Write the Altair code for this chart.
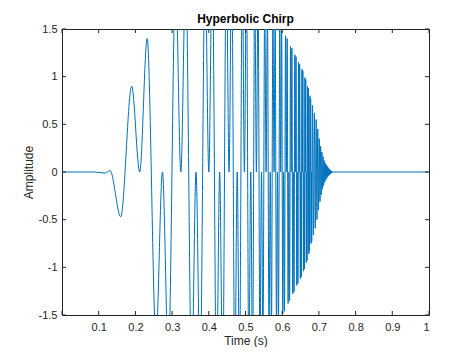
import altair as alt
import pandas as pd

# Extrema of the hyperbolic chirp (time in s, amplitude)
t_vals = [
    0.0, 0.090, 0.117, 0.131, 0.160,
    0.1899, 0.2118, 0.2321, 0.2563, 0.2737, 0.2900,
    0.3096, 0.3238, 0.3372, 0.3534, 0.3652, 0.3764,
    0.3900, 0.4000, 0.4095, 0.4211, 0.4296, 0.4378,
    0.4478, 0.4552, 0.4623, 0.4710, 0.4774, 0.4836,
    0.4913, 0.4970, 0.5025, 0.5092, 0.5143, 0.5192,
    0.5252, 0.5297, 0.5341, 0.5395, 0.5436, 0.5475,
    0.5524, 0.5561, 0.5597, 0.5641, 0.5674, 0.5707,
    0.5747, 0.5778, 0.5807, 0.5844, 0.5872, 0.5899,
    0.5934, 0.5959, 0.5984, 0.6016, 0.6039, 0.6062,
    0.6091, 0.6113, 0.6135, 0.6161, 0.6182, 0.6202,
    0.6227, 0.6246, 0.6264, 0.6287, 0.6305, 0.6322,
    0.6344, 0.6361, 0.6377, 0.6397, 0.6413, 0.6428,
    0.6447, 0.6462, 0.6476, 0.6494, 0.6507, 0.6521,
    0.6538, 0.6551, 0.6563, 0.6579, 0.6592, 0.6604,
    0.6619, 0.6630, 0.6641, 0.6656, 0.6667, 0.6677,
    0.6691, 0.6701, 0.6711, 0.6724, 0.6734, 0.6744,
    0.6756, 0.6765, 0.6775, 0.6786, 0.6795, 0.6804,
    0.6824, 0.6851, 0.6876, 0.6901, 0.6925, 0.6947, 0.6969, 0.6990,
    0.7010, 0.7029, 0.7048, 0.7065, 0.7083, 0.7099, 0.7115, 0.7130,
    0.7145, 0.7160, 0.7174, 0.7187, 0.7200, 0.7213, 0.7225, 0.7237,
    0.7248, 0.7259, 0.7270, 0.7281, 0.7291, 0.7301, 0.7310, 0.7320,
    0.7329, 0.7338, 0.7346, 0.7355, 0.7363, 0.7371, 0.7400, 1.0,
]
amp_vals = [
    0.0, 0.0, -0.012, 0.015, -0.47,
    0.90, 0.0, 1.40, -1.75, 0.0, -1.95,
    2.05, 0.0, 2.10, -2.15, 0.0, -2.20,
    2.20, 0.0, 2.25, -2.25, 0.0, -2.25,
    2.25, 0.0, 2.25, -2.20, 0.0, -2.20,
    2.15, 0.0, 2.10, -2.10, 0.0, -2.05,
    2.00, 0.0, 1.95, -1.90, 0.0, -1.85,
    1.80, 0.0, 1.75, -1.72, 0.0, -1.68,
    1.65, 0.0, 1.62, -1.60, 0.0, -1.56,
    1.53, 0.0, 1.50, -1.49, 0.0, -1.46,
    1.43, 0.0, 1.40, -1.38, 0.0, -1.35,
    1.32, 0.0, 1.30, -1.28, 0.0, -1.26,
    1.23, 0.0, 1.21, -1.19, 0.0, -1.17,
    1.15, 0.0, 1.13, -1.12, 0.0, -1.10,
    1.08, 0.0, 1.06, -1.04, 0.0, -1.02,
    0.99, 0.0, 0.97, -0.95, 0.0, -0.93,
    0.90, 0.0, 0.88, -0.86, 0.0, -0.83,
    0.80, 0.0, 0.77, -0.75, 0.0, -0.73,
    0.70, -0.66, 0.62, -0.59, 0.55, -0.50, 0.45, -0.40,
    0.35, -0.31, 0.27, -0.24, 0.21, -0.18, 0.16, -0.14,
    0.12, -0.105, 0.095, -0.085, 0.075, -0.067, 0.06, -0.053,
    0.047, -0.042, 0.037, -0.032, 0.028, -0.024, 0.02, -0.017,
    0.014, -0.011, 0.009, -0.007, 0.005, -0.003, 0.0, 0.0,
]

x_ticks = [0.1, 0.2, 0.3, 0.4, 0.5, 0.6, 0.7, 0.8, 0.9, 1.0]
x_tick_marks = [0.0] + x_ticks
y_ticks = [-1.5, -1.0, -0.5, 0.0, 0.5, 1.0, 1.5]

W, H = 367, 286
AX = "#262626"
FONT = "Liberation Sans"

df = pd.DataFrame({"t": t_vals, "amp": amp_vals})

xscale = alt.Scale(domain=[0, 1], nice=False, zero=False)
yscale = alt.Scale(domain=[-1.5, 1.5], nice=False, zero=False)

lab = "datum.value < 0 ? '-' + format(-datum.value, '~g') : format(datum.value, '~g')"

xaxis = alt.Axis(values=x_ticks, labelExpr=lab, title="Time (s)", tickSize=0,
                 domain=False, grid=False, labelPadding=6, titlePadding=3)
yaxis = alt.Axis(values=y_ticks, labelExpr=lab, title="Amplitude", tickSize=0,
                 domain=False, grid=False, labelPadding=5, titlePadding=3)

X = alt.X("t:Q", scale=xscale, axis=xaxis)
Y = alt.Y("amp:Q", scale=yscale, axis=yaxis)

line = alt.Chart(df).mark_line(
    color="#0072BD", strokeWidth=1, interpolate="monotone", clip=True
).encode(x=X, y=Y)

xt = pd.DataFrame({"t": x_tick_marks})
yt = pd.DataFrame({"amp": y_ticks})

bottom_ticks = alt.Chart(xt).mark_rule(color=AX, strokeWidth=1).encode(
    x=X, y=alt.value(H), y2=alt.value(H - 4))
top_ticks = alt.Chart(xt).mark_rule(color=AX, strokeWidth=1).encode(
    x=X, y=alt.value(0), y2=alt.value(4))
left_ticks = alt.Chart(yt).mark_rule(color=AX, strokeWidth=1).encode(
    y=Y, x=alt.value(0), x2=alt.value(4))
right_ticks = alt.Chart(yt).mark_rule(color=AX, strokeWidth=1).encode(
    y=Y, x=alt.value(W), x2=alt.value(W - 4))

chart = alt.layer(line, bottom_ticks, top_ticks, left_ticks, right_ticks).properties(
    width=W, height=H,
    title=alt.TitleParams("Hyperbolic Chirp", fontSize=12, fontWeight="bold",
                          font=FONT, color="#000000", anchor="middle", offset=-3),
    autosize=alt.AutoSizeParams(type="none"),
    padding={"left": 54, "top": 21, "right": 30, "bottom": 32},
).configure_view(
    stroke=AX, strokeWidth=1
).configure_axis(
    labelFont=FONT, labelFontSize=11, labelColor=AX,
    titleFont=FONT, titleFontSize=12, titleFontWeight="normal", titleColor=AX,
)

chart.save("out.html", embed_options={"renderer": "svg", "actions": False})
